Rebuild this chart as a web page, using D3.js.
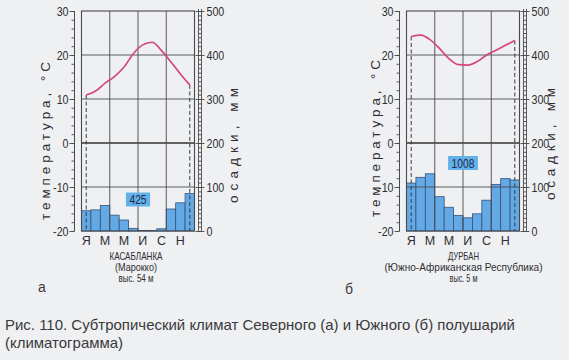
<!DOCTYPE html>
<html><head><meta charset="utf-8">
<script src="https://cdn.jsdelivr.net/npm/d3@7"></script>
<style>
html,body{margin:0;padding:0;background:#eff0f2;}
svg{display:block;}
</style></head><body>
<svg id="c" width="569" height="360"></svg>
<script>
// ---- data ----
const monthLetters = ["Я","Ф","М","А","М","И","И","А","С","О","Н","Д"];
const shownMonths = [0, 2, 4, 6, 8, 10];
const tempTicks = [30, 20, 10, 0, -10, -20];
const precTicks = [0, 100, 200, 300, 400, 500];
const casaTemp = [10.9, 11.8, 13.6, 15.1, 17.2, 20.3, 22.3, 22.9, 21.0, 18.4, 15.7, 13.2];
const casaPrec = [46, 48, 58, 36, 25, 6, 1, 1, 5, 50, 64, 85];
const durTemp  = [24.2, 24.5, 23.5, 21.5, 19.2, 17.8, 17.7, 18.5, 20.0, 21.1, 22.2, 23.3];
const durPrec  = [109, 122, 130, 78, 54, 35, 30, 39, 70, 106, 119, 116];
const casaTotal = "425";
const durTotal = "1008";
const casaTitle = ["КАСАБЛАНКА", "(Марокко)", "выс. 54 м"];
const durTitle  = ["ДУРБАН", "(Южно-Африканская  Республика)", "выс. 5 м"];
const tempTitle = "температура, °С";
const precTitle = "осадки, мм";
const caption = ["Рис. 110. Субтропический климат Северного (а) и Южного (б) полушарий", "(климатограмма)"];

const svg = d3.select("#c");
const SANS = "'Liberation Sans',Arial,sans-serif";
const INK = "#2e2e30";

function fitWidth(sel, target) {
  const fs = parseFloat(sel.attr("font-size"));
  const w = sel.node().getComputedTextLength();
  if (w > 0) sel.attr("font-size", (fs * target / w).toFixed(2));
}
function squeeze(sel, target) {
  sel.attr("textLength", target).attr("lengthAdjust", "spacingAndGlyphs");
}

function drawChart(o) {
  const g = svg.append("g");
  const x0 = o.x0, w = 113, top = 11, bot = 231;
  const x = d3.scaleBand().domain(d3.range(12)).range([x0, x0 + w]);
  const yT = d3.scaleLinear().domain([-20, 30]).range([bot, top]);
  const yP = d3.scaleLinear().domain([0, 500]).range([bot, top]);
  const cx = i => x(i) + x.bandwidth() / 2;

  // bars
  g.append("g").selectAll("rect").data(o.prec).join("rect")
    .attr("x", (d, i) => x(i)).attr("width", x.bandwidth())
    .attr("y", d => yP(d)).attr("height", d => bot - yP(d))
    .attr("fill", "#63a9e6").attr("stroke", "#34527a").attr("stroke-width", 0.8);

  // grid
  const grid = g.append("g").attr("stroke", "#4a4a4c").attr("fill", "none");
  [20, 10, -10].forEach(t => grid.append("line")
    .attr("x1", x0).attr("x2", x0 + w).attr("y1", yT(t)).attr("y2", yT(t)).attr("stroke-width", 0.9));
  grid.append("line").attr("x1", x0).attr("x2", x0 + w).attr("y1", yT(0)).attr("y2", yT(0))
    .attr("stroke-width", 1.7).attr("stroke", "#333");
  [3, 6, 9].forEach(i => grid.append("line")
    .attr("x1", x(i)).attr("x2", x(i)).attr("y1", top).attr("y2", bot).attr("stroke-width", 0.9));
  grid.append("rect").attr("x", x0).attr("y", top).attr("width", w).attr("height", bot - top)
    .attr("stroke-width", 1.1);

  // dashed lines Jan & Dec
  [0, 11].forEach(i => g.append("line")
    .attr("x1", cx(i)).attr("x2", cx(i)).attr("y1", yT(o.temp[i])).attr("y2", bot)
    .attr("stroke", "#3a3a3c").attr("stroke-width", 1).attr("stroke-dasharray", "4,2.5"));

  // temperature line
  const line = d3.line().x((d, i) => cx(i)).y(d => yT(d)).curve(d3.curveMonotoneX);
  g.append("path").datum(o.temp).attr("d", line)
    .attr("fill", "none").attr("stroke", "#d4457f").attr("stroke-width", 1.7);

  // left axis (temperature)
  const ax = x0 - 7;
  const minorL = g.append("g").attr("transform", `translate(${ax},0)`)
    .call(d3.axisLeft(yT).tickValues(d3.range(-20, 31, 2)).tickSize(3).tickFormat(""));
  minorL.select(".domain").remove();
  const majorL = g.append("g").attr("transform", `translate(${ax},0)`)
    .call(d3.axisLeft(yT).tickValues(tempTicks).tickSize(5).tickPadding(1).tickFormat(d => d < 0 ? "-" + Math.abs(d) : d));
  majorL.select(".domain").remove();
  g.append("line").attr("x1", ax).attr("x2", ax).attr("y1", top).attr("y2", bot)
    .attr("stroke", "#4a4a4c").attr("stroke-width", 1);

  // right axis (precipitation rail)
  const rl = x0 + w + 4, rr = rl + 3;
  const minorR = g.append("g").attr("transform", `translate(${rl},0)`)
    .call(d3.axisRight(yP).tickValues(d3.range(0, 501, 10)).tickSize(3).tickFormat(""));
  minorR.select(".domain").remove();
  const majorR = g.append("g").attr("transform", `translate(${rl - 3},0)`)
    .call(d3.axisRight(yP).tickValues(precTicks).tickSize(9).tickPadding(2));
  majorR.select(".domain").remove();
  [rl, rr].forEach(xx => g.append("line").attr("x1", xx).attr("x2", xx).attr("y1", top - 2).attr("y2", bot + 1)
    .attr("stroke", "#4a4a4c").attr("stroke-width", 0.9));

  g.selectAll(".tick line").attr("stroke", "#4a4a4c").attr("stroke-width", 0.9);
  g.selectAll(".tick text").attr("font-family", SANS).attr("font-size", 13).attr("fill", INK)
    .attr("font-weight", 500)
    .each(function() { const n = this; const wd = n.getComputedTextLength(); if (wd > 0) squeeze(d3.select(n), wd * 0.82); });

  // month letters
  g.append("g").selectAll("text").data(shownMonths).join("text")
    .attr("x", i => cx(i)).attr("y", 245).attr("text-anchor", "middle")
    .attr("font-family", SANS).attr("font-size", 12.5).attr("fill", INK)
    .text(i => monthLetters[i]);

  // total box
  const tb = g.append("g");
  const tt = tb.append("text").attr("x", x0 + w / 2).attr("y", o.boxY + 4.5).attr("text-anchor", "middle")
    .attr("font-family", SANS).attr("font-size", 12.5).attr("fill", "#1f2a44").text(o.total);
  const nat = tt.node().getComputedTextLength();
  squeeze(tt, nat * 0.82);
  const bw = nat * 0.82 + 7;
  tb.insert("rect", "text").attr("x", x0 + w / 2 - bw / 2).attr("y", o.boxY - 7).attr("width", bw).attr("height", 14)
    .attr("fill", "#62b1ea");

  // axis titles
  g.append("text").attr("transform", `translate(${o.tTitleX},${o.tTitleY}) rotate(-90)`)
    .attr("text-anchor", "middle").attr("font-family", SANS).attr("font-size", 13.5).attr("fill", INK)
    .attr("textLength", o.tTitleLen).attr("lengthAdjust", "spacing")
    .text(tempTitle);
  g.append("text").attr("transform", `translate(${o.pTitleX},${o.pTitleY}) rotate(-90)`)
    .attr("text-anchor", "middle").attr("font-family", SANS).attr("font-size", 13.5).attr("fill", INK)
    .attr("textLength", o.pTitleLen).attr("lengthAdjust", "spacing")
    .text(precTitle);

  // station titles (condensed)
  o.title.forEach((s, k) => {
    const t = g.append("text").attr("x", o.titleX).attr("y", [260, 271, 282][k]).attr("text-anchor", "middle")
      .attr("font-family", SANS).attr("font-size", 11.5).attr("fill", INK).text(s);
    squeeze(t, o.titleW[k]);
  });
  g.append("text").attr("x", o.letterX).attr("y", o.letterY).attr("text-anchor", "middle")
    .attr("font-family", SANS).attr("font-size", 14).attr("fill", "#3a3a3c").text(o.letter);
}

drawChart({x0: 81.5, temp: casaTemp, prec: casaPrec, total: casaTotal, boxY: 199.5,
  tTitleX: 49.5, tTitleY: 141, tTitleLen: 158, pTitleX: 237.5, pTitleY: 145.5, pTitleLen: 115,
  title: casaTitle, titleX: 136, titleW: [53, 42, 35], letter: "а", letterX: 42, letterY: 292});
drawChart({x0: 406.5, temp: durTemp, prec: durPrec, total: durTotal, boxY: 163,
  tTitleX: 379.5, tTitleY: 138.5, tTitleLen: 157, pTitleX: 554.5, pTitleY: 144, pTitleLen: 112,
  title: durTitle, titleX: 463.5, titleW: [31, 158, 28], letter: "б", letterX: 349, letterY: 294});

// caption
const c1 = svg.append("text").attr("x", 5).attr("y", 330).attr("font-family", SANS).attr("font-size", 14)
  .attr("fill", "#3a3a3c").text(caption[0]);
fitWidth(c1, 510);
svg.append("text").attr("x", 5).attr("y", 348).attr("font-family", SANS).attr("font-size", c1.attr("font-size"))
  .attr("fill", "#3a3a3c").text(caption[1]);
</script>
</body></html>
